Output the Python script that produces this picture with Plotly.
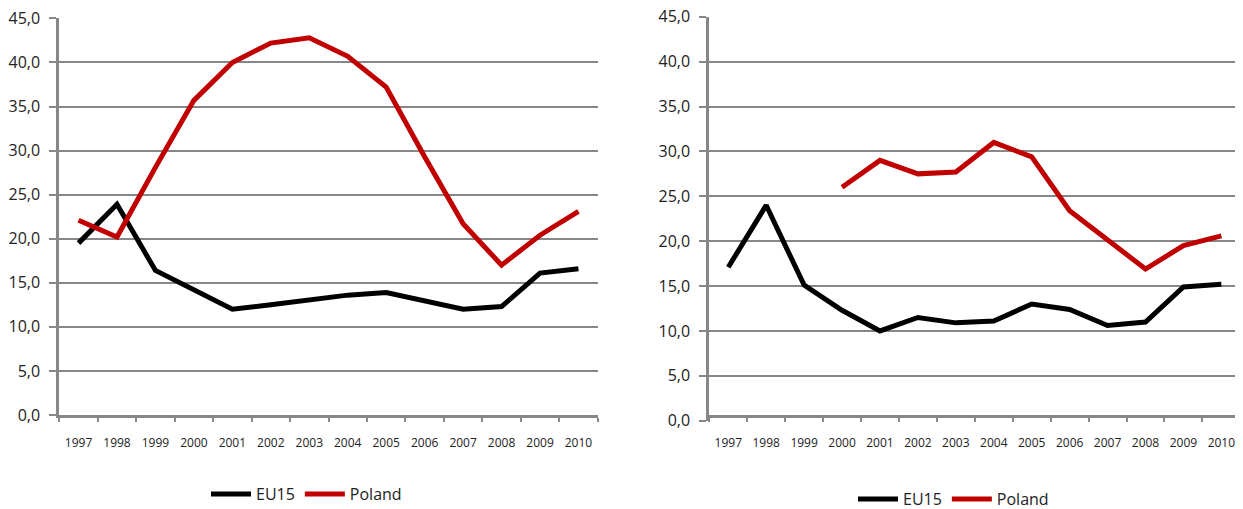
import plotly.graph_objects as go

years = ["1997", "1998", "1999", "2000", "2001", "2002", "2003",
         "2004", "2005", "2006", "2007", "2008", "2009", "2010"]

# Left chart
eu15_left = [19.5, 23.9, 16.4, 14.2, 12.0, 12.5, 13.0, 13.6, 13.9, 13.0, 12.0, 12.3, 16.1, 16.6]
poland_left = [22.1, 20.2, 28.1, 35.7, 40.0, 42.2, 42.8, 40.7, 37.2, 29.3, 21.7, 17.0, 20.4, 23.1]

# Right chart
eu15_right = [17.1, 24.0, 15.1, 12.3, 10.0, 11.5, 10.9, 11.1, 13.0, 12.4, 10.6, 11.0, 14.9, 15.2]
poland_right = [None, None, None, 26.0, 29.0, 27.5, 27.7, 31.0, 29.4, 23.4, 20.1, 16.9, 19.5, 20.6]

series_names = ["EU15", "Poland"]
colors = ["#000000", "#C00000"]

# page body has an 8px margin, so the figure is offset by 8px
OFF = 8
W, H = 1243 - OFF, 509 - OFF
GRID = "#878787"
FONT = "Open Sans"


def px_x(x):
    return (x - OFF) / W


def px_y(y):
    return 1 - (y - OFF) / H


fig = go.Figure()

for vals, name, col in zip([eu15_left, poland_left], series_names, colors):
    fig.add_trace(go.Scatter(x=years, y=vals, name=name, mode="lines",
                             line=dict(color=col, width=5),
                             xaxis="x", yaxis="y", legend="legend"))
for vals, name, col in zip([eu15_right, poland_right], series_names, colors):
    fig.add_trace(go.Scatter(x=years, y=vals, name=name, mode="lines",
                             line=dict(color=col, width=5),
                             xaxis="x2", yaxis="y2", legend="legend2"))


def xax(domain, rng):
    return dict(domain=domain, type="category", range=rng,
                showline=True, linecolor=GRID, linewidth=2.5,
                showgrid=False, tickson="boundaries", ticks="outside",
                ticklen=4, tickwidth=2, tickcolor=GRID,
                tickfont=dict(family=FONT, size=12, color="#222222"),
                ticklabelstandoff=15, ticklabeloverflow="allow",
                fixedrange=True, automargin=False)


def yax(domain, anchor):
    return dict(domain=domain, anchor=anchor, range=[0, 45.01],
                tickvals=[0, 5, 10, 15, 20, 25, 30, 35, 40, 45],
                tickformat=".1f", showline=True, linecolor=GRID, linewidth=3,
                showgrid=True, gridcolor=GRID, gridwidth=2,
                zeroline=False, ticks="outside", ticklen=7, tickwidth=2,
                tickcolor=GRID,
                tickfont=dict(family=FONT, size=16, color="#222222"),
                ticklabelstandoff=6, ticklabeloverflow="allow",
                fixedrange=True, automargin=False)


fig.update_layout(
    width=W, height=H,
    margin=dict(l=0, r=0, t=0, b=0, autoexpand=False),
    paper_bgcolor="white", plot_bgcolor="white",
    separators=", ",
    font=dict(family=FONT, color="#222222"),
    xaxis=xax([px_x(59.3), px_x(597.7)], [-0.5, 13.5]),
    yaxis=yax([px_y(415), px_y(18.3)], "x"),
    xaxis2=xax([px_x(709.3), px_x(1235)], [-0.5, 13.36]),
    yaxis2=yax([px_y(420.7), px_y(16.7)], "x2"),
    legend=dict(orientation="h", x=px_x(206), y=px_y(494), xanchor="left",
                yanchor="middle", font=dict(family=FONT, size=16, color="#222222"),
                bgcolor="rgba(0,0,0,0)", itemwidth=40, tracegroupgap=0),
    legend2=dict(orientation="h", x=px_x(853), y=px_y(499), xanchor="left",
                 yanchor="middle", font=dict(family=FONT, size=16, color="#222222"),
                 bgcolor="rgba(0,0,0,0)", itemwidth=40, tracegroupgap=0),
    showlegend=True,
)

fig.write_html("out.html")
